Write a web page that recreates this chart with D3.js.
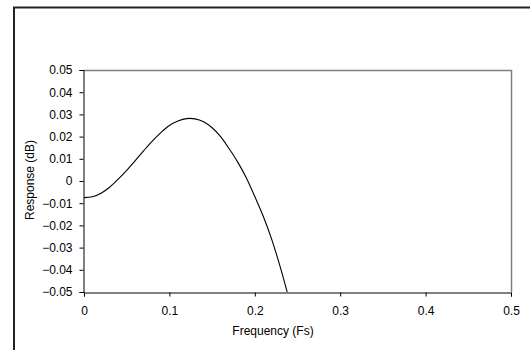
<!DOCTYPE html>
<html>
<head>
<meta charset="utf-8">
<script src="https://cdn.jsdelivr.net/npm/d3@7"></script>
<style>
  html, body { margin: 0; background: #fff; overflow: hidden; }
  svg { display: block; font-family: "Liberation Sans", Arial, sans-serif; }
</style>
</head>
<body>
<svg class="chart" width="530" height="350"></svg>
<script>
// frequency samples (Fs) and response (dB)
const freqs = [0, 0.01, 0.02, 0.03, 0.04, 0.05, 0.06, 0.07, 0.08, 0.09, 0.1, 0.11, 0.12,
  0.13, 0.14, 0.15, 0.16, 0.17, 0.18, 0.19, 0.2, 0.21, 0.22, 0.23, 0.24];
const response = [-0.0075, -0.0071, -0.0055, -0.0028, 0.0008, 0.0048, 0.0092, 0.0137, 0.018,
  0.0218, 0.025, 0.027, 0.0281, 0.028, 0.0267, 0.024, 0.02, 0.0145, 0.0085, 0.0015,
  -0.007, -0.016, -0.0265, -0.039, -0.053];
const xTicks = [0, 0.1, 0.2, 0.3, 0.4, 0.5];
const yTicks = [-0.05, -0.04, -0.03, -0.02, -0.01, 0, 0.01, 0.02, 0.03, 0.04, 0.05];

const svg = d3.select(".chart");

// chart area frame (only top and left edges fall inside the window)
svg.append("rect")
  .attr("x", 14).attr("y", 7.5)
  .attr("width", 600).attr("height", 400)
  .attr("fill", "none")
  .attr("stroke", "#222")
  .attr("stroke-width", 2);

const plotLeft = 84, plotRight = 511, plotTop = 70, plotBottom = 292;
const xScale = d3.scaleLinear().domain([0, 0.5]).range([plotLeft, plotRight]);
const yScale = d3.scaleLinear().domain([-0.05, 0.05]).range([plotBottom, plotTop]);

// plot area border (grey top and right)
svg.append("path")
  .attr("d", `M${plotLeft},${plotTop + 0.5}H${plotRight + 0.5}V${plotBottom}`)
  .attr("fill", "none")
  .attr("stroke", "#808080")
  .attr("stroke-width", 1.5);

svg.append("clipPath").attr("id", "plotclip")
  .append("rect")
  .attr("x", plotLeft).attr("y", plotTop)
  .attr("width", plotRight - plotLeft).attr("height", plotBottom - plotTop);

const line = d3.line()
  .x((d, i) => xScale(freqs[i]))
  .y(d => yScale(d))
  .curve(d3.curveCatmullRom);

svg.append("path")
  .datum(response)
  .attr("clip-path", "url(#plotclip)")
  .attr("d", line)
  .attr("fill", "none")
  .attr("stroke", "#000")
  .attr("stroke-width", 1.1);

// x axis
svg.append("g")
  .attr("transform", "translate(0," + (plotBottom + 0.5) + ")")
  .call(d3.axisBottom(xScale).tickValues(xTicks).tickSize(4).tickPadding(10)
    .tickFormat(d => d3.format("")(d)));
// y axis
svg.append("g")
  .attr("transform", "translate(" + (plotLeft - 0.5) + ",0)")
  .call(d3.axisLeft(yScale).tickValues(yTicks).tickSize(4).tickPadding(7)
    .tickFormat(d => d === 0 ? "0" : d3.format(".2f")(d)));

svg.selectAll(".domain").attr("stroke", "#000");
svg.selectAll(".tick line").attr("stroke", "#000");
svg.selectAll(".tick text")
  .attr("fill", "#000")
  .style("font-size", "12px")
  .style("font-family", "Liberation Sans, Arial, sans-serif");

// axis titles
svg.append("text")
  .attr("x", 273).attr("y", 335)
  .attr("text-anchor", "middle")
  .style("font-size", "12px")
  .text("Frequency (Fs)");

svg.append("text")
  .attr("transform", "translate(34,180) rotate(-90)")
  .attr("text-anchor", "middle")
  .style("font-size", "12px")
  .text("Response (dB)");
</script>
</body>
</html>
